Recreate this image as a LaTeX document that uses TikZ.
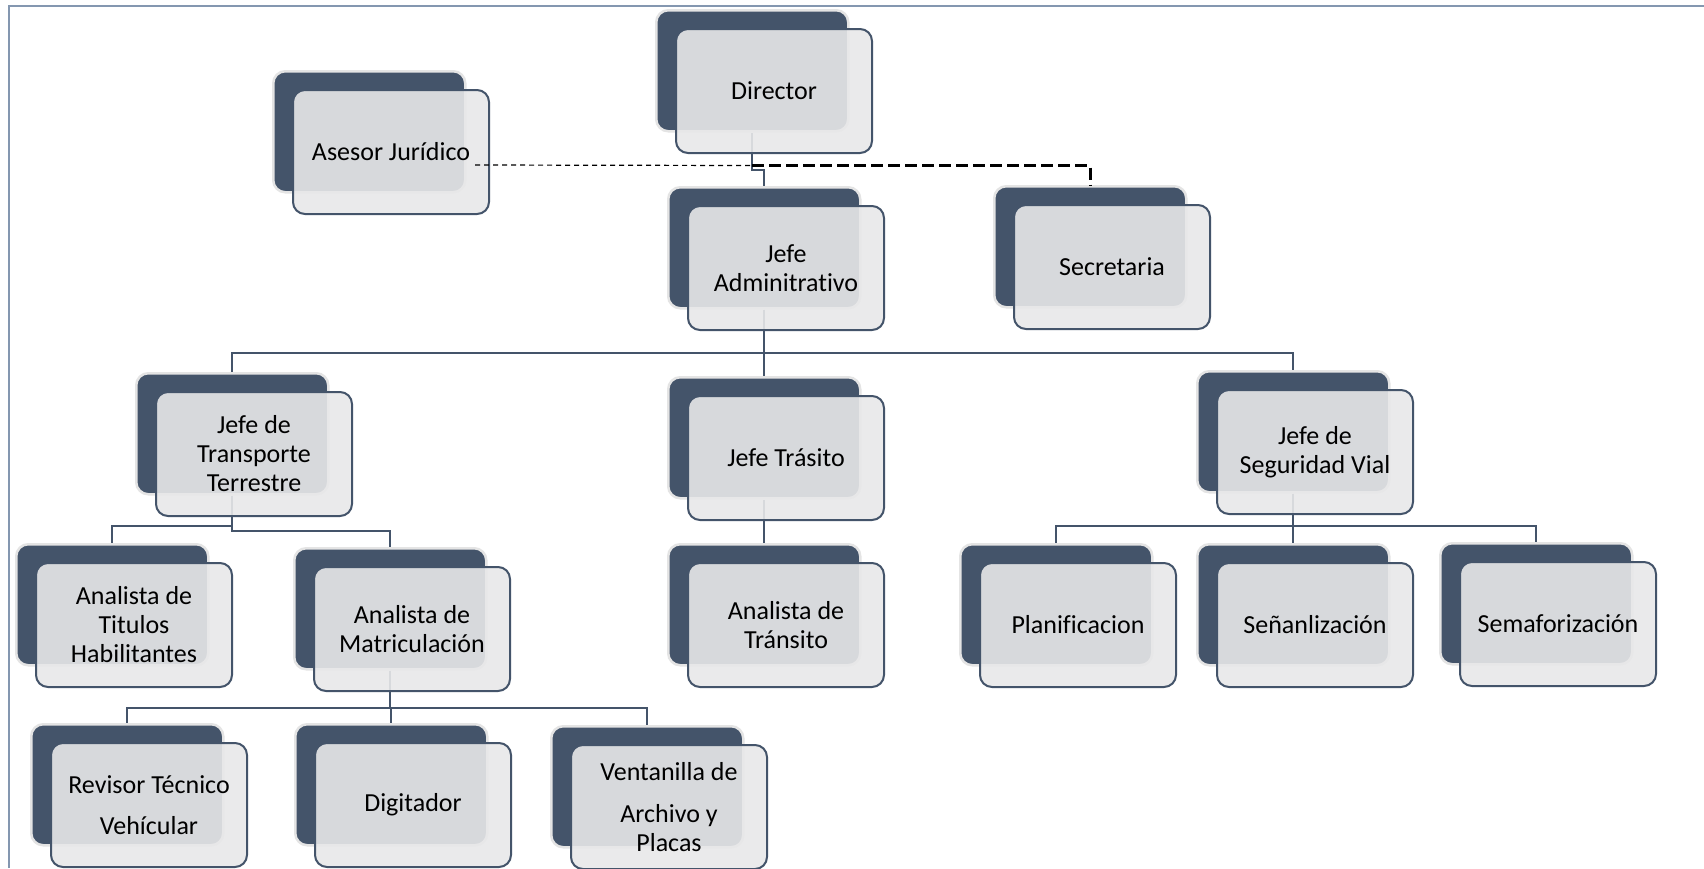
\documentclass[tikz,border=0pt]{standalone}
\usepackage{fontspec}
\setmainfont[Ligatures=NoCommon]{Carlito}
\usetikzlibrary{calc}
\pgfdeclarelayer{links}
\pgfsetlayers{links,main}
\definecolor{navy}{HTML}{44546A}
\definecolor{paper}{HTML}{E8E8E9}
\definecolor{halo}{HTML}{E4E4E4}
\definecolor{framecol}{HTML}{8497B0}
\tikzset{
  back/.style={draw=halo, line width=2.5pt, fill=navy, rounded corners=12pt,
    minimum width=192pt, minimum height=121pt, anchor=north west, inner sep=0pt},
  front/.style={draw=navy, line width=2pt, fill=paper, fill opacity=0.9, text opacity=1,
    rounded corners=12pt, minimum width=196pt, minimum height=124pt,
    anchor=north west, align=center, inner sep=0pt, text=black,
    font=\fontsize{26}{29}\selectfont},
  link/.style={draw=navy, line width=2pt},
  staffline/.style={draw=black, line width=3pt, dash pattern=on 12pt off 5pt},
  adviceline/.style={draw=black, line width=1.2pt, dash pattern=on 5pt off 4pt},
}
% one unit: dark back card at (x,y), light front card shifted by (20,19)
\newcommand\orgunit[4]{%
  \node[back] (#1D) at (#2,#3) {};
  \node[front] (#1) at (#2+20,#3+19) {#4};
}
\begin{document}
\begin{tikzpicture}[x=1pt,y=-1pt]
\useasboundingbox (0,0) rectangle (1704,868);

\orgunit{dir}{655}{9}{Director}
\orgunit{ase}{272}{70}{Asesor Jurídico}
\orgunit{adm}{667}{186}{Jefe\\Adminitrativo}
\orgunit{sec}{993}{185}{Secretaria}
\orgunit{tra}{135}{372}{Jefe de\\Transporte\\Terrestre}
\orgunit{tri}{667}{376}{Jefe Trásito}
\orgunit{seg}{1196}{370}{Jefe de\\Seguridad Vial}
\orgunit{tit}{15}{543}{Analista de\\Titulos\\Habilitantes}
\orgunit{mat}{293}{547}{Analista de\\Matriculación}
\orgunit{atr}{667}{543}{Analista de\\Tránsito}
\orgunit{pla}{959}{543}{Planificacion}
\orgunit{sen}{1196}{543}{Señanlización}
\orgunit{sem}{1439}{542}{Semaforización}
\orgunit{rev}{30}{723}{Revisor Técnico\\[12pt]Vehícular}
\orgunit{dig}{294}{723}{Digitador}
\orgunit{ven}{550}{725}{Ventanilla de\\[13pt]Archivo y\\Placas}

\begin{pgfonlayer}{links}
  % white page and its frame
  \fill[white] (0,0) rectangle (1704,868);
  \draw[framecol, line width=2.5pt] (9,868) -- (9,6) -- (1704,6);
  % reporting lines
  \draw[link] (dirD.south) -- ++(0,37) -| (admD.north);
  \draw[link] (admD.south) -- ++(0,43) -| (traD.north);
  \draw[link] (admD.south) -- (triD.north);
  \draw[link] (admD.south) -- ++(0,43) -| (segD.north);
  \draw[link] (traD.south) -- ++(0,30) -| (titD.north);
  \draw[link] (traD.south) -- ++(0,35) -| (matD.north);
  \draw[link] (matD.south) -- ++(0,37) -| (revD.north);
  \draw[link] (matD.south) -- ++(0,37) -| (digD.north);
  \draw[link] (matD.south) -- ++(0,37) -| (venD.north);
  \draw[link] (triD.south) -- (atrD.north);
  \draw[link] (segD.south) -- ++(0,32) -| (plaD.north);
  \draw[link] (segD.south) -- (senD.north);
  \draw[link] (segD.south) -- ++(0,32) -| (semD.north);
\end{pgfonlayer}

% staff and advisory lines
\coordinate (hub) at ($(dirD.south)+(0,33)$);
\draw[staffline] (hub) -| (secD.north);
\draw[adviceline] ($(ase.east)+(-15,13)$) -- (hub);
\end{tikzpicture}
\end{document}
